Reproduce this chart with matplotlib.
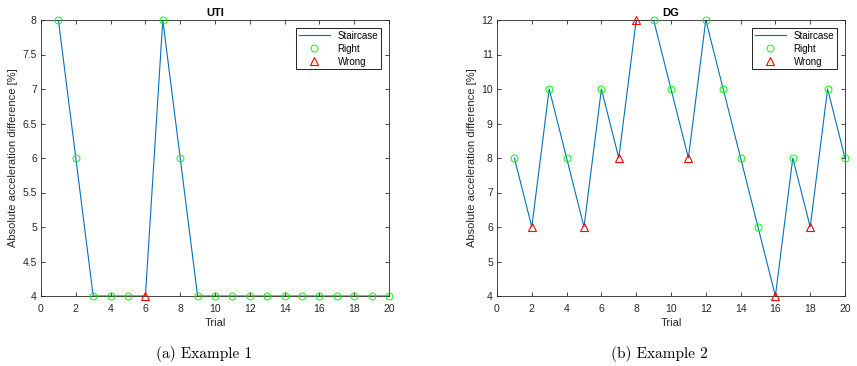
import matplotlib
matplotlib.use("Agg")
import matplotlib.pyplot as plt
import numpy as np

trials = np.arange(1, 21)

# UTI staircase and which trials were wrong
uti_vals = [8, 6, 4, 4, 4, 4, 8, 6, 4, 4, 4, 4, 4, 4, 4, 4, 4, 4, 4, 4]
uti_wrong = [6]

# DG staircase
dg_vals = [8, 6, 10, 8, 6, 10, 8, 12, 12, 10, 8, 12, 10, 8, 6, 4, 8, 6, 10, 8]
dg_wrong = [2, 5, 7, 8, 11, 16, 18]

titles = ["UTI", "DG"]
captions = ["(a) Example 1", "(b) Example 2"]
ylims = [(4, 8), (4, 12)]
yticks = [np.arange(4, 8.01, 0.5), np.arange(4, 12.01, 1)]
ytlabels = [["4", "4.5", "5", "5.5", "6", "6.5", "7", "7.5", "8"],
            [str(v) for v in range(4, 13)]]

blue = (0, 0.447, 0.741)
axcol = (0.15, 0.15, 0.15)

plt.rcParams['font.family'] = ['Liberation Sans', 'DejaVu Sans']

fig = plt.figure(figsize=(8.57, 3.66), dpi=100)
positions = [[41 / 857, 70 / 366, 348 / 857, 276 / 366],
             [497 / 857, 70 / 366, 348 / 857, 276 / 366]]
cap_x = [204 / 857, 659 / 857]

for i, vals in enumerate([uti_vals, dg_vals]):
    wrong = [uti_wrong, dg_wrong][i]
    vals = np.array(vals)
    is_wrong = np.isin(trials, wrong)
    ax = fig.add_axes(positions[i])
    ax.plot(trials, vals, color=blue, lw=0.8, label="Staircase", zorder=2)
    ax.plot(trials[~is_wrong], vals[~is_wrong], 'o', mfc='none', mec=(0, 1, 0),
            ms=5, mew=0.7, label="Right", clip_on=False, zorder=3)
    ax.plot(trials[is_wrong], vals[is_wrong], '^', mfc='none', mec=(1, 0, 0),
            ms=5.5, mew=0.8, label="Wrong", clip_on=False, zorder=3)
    ax.set_xlim(0, 20)
    ax.set_ylim(*ylims[i])
    ax.set_xticks(np.arange(0, 21, 2))
    ax.set_yticks(yticks[i])
    ax.set_yticklabels(ytlabels[i])
    ax.tick_params(direction='in', top=True, right=True, labelsize=7.5,
                   colors=axcol, length=3, width=0.6, pad=3)
    ax.tick_params(axis='x', pad=6)
    for s in ax.spines.values():
        s.set_color(axcol)
        s.set_linewidth(0.6)
    ax.set_title(titles[i], fontsize=8, fontweight='bold', pad=3, color='black')
    ax.set_xlabel("Trial", fontsize=8, color=axcol, labelpad=3)
    ax.set_ylabel("Absolute acceleration difference [%]", fontsize=8,
                  color=axcol, labelpad=3)
    leg = ax.legend(loc='upper right', fontsize=7, fancybox=False,
                    framealpha=1, edgecolor='black', borderpad=0.3,
                    labelspacing=0.3, handlelength=3.2, borderaxespad=0.8)
    leg.get_frame().set_linewidth(0.6)
    fig.text(cap_x[i], 1 - 354 / 366, captions[i],
             ha='center', va='center', fontsize=11, family=['cmr10', 'DejaVu Serif'])

fig.savefig("out.png", dpi=100)
